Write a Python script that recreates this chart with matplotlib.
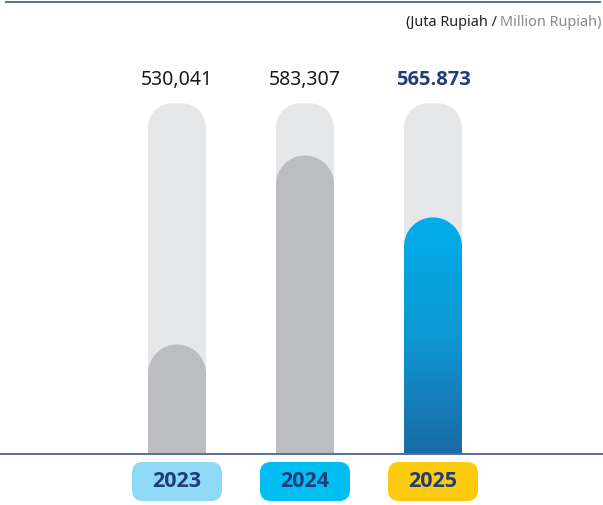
import matplotlib.pyplot as plt
import numpy as np
from matplotlib.path import Path
from matplotlib.patches import PathPatch, FancyBboxPatch
from matplotlib.colors import LinearSegmentedColormap
from matplotlib.lines import Line2D

years = ["2023", "2024", "2025"]
values = [530041, 583307, 565873]
value_labels = ["530,041", "583,307", "565.873"]
track_top = 598000

badge_colors = ["#8fd8f6", "#00bdf2", "#fccb10"]
navy = "#1f3d7a"
rule_color = "#5b6c9c"
bold_font = ["Open Sans", "Roboto", "DejaVu Sans"]

W, H = 603, 506
plt.rcParams["font.family"] = ["Noto Sans", "DejaVu Sans"]
fig = plt.figure(figsize=(W / 100, H / 100), dpi=100)

# bar area sits above the baseline at 455 px from the top
base_px = 455
ax = fig.add_axes([0, (H - base_px) / H, 1, base_px / H])
xlim = (-177 / 128, (W - 177) / 128)
ax.set_xlim(xlim)
ax.set_ylim(499200, 499200 + base_px * 281.8)
ax.axis("off")

# data units per pixel, used to keep the rounded tops circular
x_per_px = (xlim[1] - xlim[0]) / W
y_per_px = (ax.get_ylim()[1] - ax.get_ylim()[0]) / base_px
bar_w = 58 * x_per_px
low = ax.get_ylim()[0] - 10 * y_per_px


def rounded_bar(xc, top, radius_px):
    """Bar path from below the axis up to `top`, with rounded top corners."""
    rx = radius_px * x_per_px
    ry = radius_px * y_per_px
    x0, x1 = xc - bar_w / 2, xc + bar_w / 2
    t = np.linspace(0, np.pi / 2, 30)
    right = np.column_stack([x1 - rx + rx * np.cos(t), top - ry + ry * np.sin(t)])
    left = np.column_stack([x0 + rx - rx * np.sin(t), top - ry + ry * np.cos(t)])
    verts = np.vstack([[x1, low], right, left, [x0, low], [x1, low]])
    codes = [Path.MOVETO] + [Path.LINETO] * (len(verts) - 2) + [Path.CLOSEPOLY]
    return Path(verts, codes)


blue_cmap = LinearSegmentedColormap.from_list("blue", ["#1a6aa5", "#0e98d4", "#00aeea"])

for i, v in enumerate(values):
    ax.add_patch(PathPatch(rounded_bar(i, track_top, 24), fc="#e6e7e9", ec="none", zorder=1))
    bar = rounded_bar(i, v, 29)
    if i == len(values) - 1:
        patch = PathPatch(bar, fc="none", ec="none", zorder=2)
        ax.add_patch(patch)
        grad = np.linspace(0, 1, 256).reshape(-1, 1)
        im = ax.imshow(grad, cmap=blue_cmap, origin="lower", aspect="auto",
                       extent=[i - bar_w / 2, i + bar_w / 2, ax.get_ylim()[0], v],
                       interpolation="bicubic", zorder=2)
        im.set_clip_path(patch)
    else:
        ax.add_patch(PathPatch(bar, fc="#bcbdc1", ec="none", zorder=2))

    last = i == len(values) - 1
    ax.text(i, 1 - 80 / base_px, value_labels[i], transform=ax.get_xaxis_transform(),
            ha="center", va="center",
            fontsize=14.5 if last else 14,
            color=navy if last else "#1a1a1a",
            fontweight="bold" if last else "normal",
            family=bold_font if last else ["Noto Sans", "DejaVu Sans"])

ax.set_xlim(xlim)
ax.set_ylim(499200, 499200 + base_px * 281.8)
ax.axhline(499200, color=rule_color, lw=1.4, clip_on=False, zorder=3)

# year badges under the baseline
bx = fig.add_axes([0, 0, 1, (H - base_px) / H])
bx.set_xlim(xlim)
bx.set_ylim(0, H - base_px)
bx.axis("off")
badge_w = 90 / 128
for i, (yr, c) in enumerate(zip(years, badge_colors)):
    bx.add_patch(FancyBboxPatch((i - badge_w / 2, 4), badge_w, 39,
                                boxstyle="round,pad=0,rounding_size=0.085",
                                mutation_aspect=128, fc=c, ec="none"))
    bx.text(i, 24, yr, ha="center", va="center", fontsize=15.5,
            fontweight="bold", color=navy, family=bold_font)

# top rule and unit note
fig.add_artist(Line2D([6 / W, 600 / W], [1 - 3 / H, 1 - 3 / H], color=rule_color,
                      lw=1.4, transform=fig.transFigure))
note2 = fig.text(602 / W, 1 - 23 / H, "Million Rupiah)", ha="right", va="center",
                 fontsize=10.4, color="#8a8a8a")
fig.canvas.draw()
bb = note2.get_window_extent()
fig.text(bb.x0 / W, 1 - 23 / H, "(Juta Rupiah / ", ha="right", va="center",
         fontsize=10.4, color="#222222")

fig.savefig("out.png", dpi=100)
